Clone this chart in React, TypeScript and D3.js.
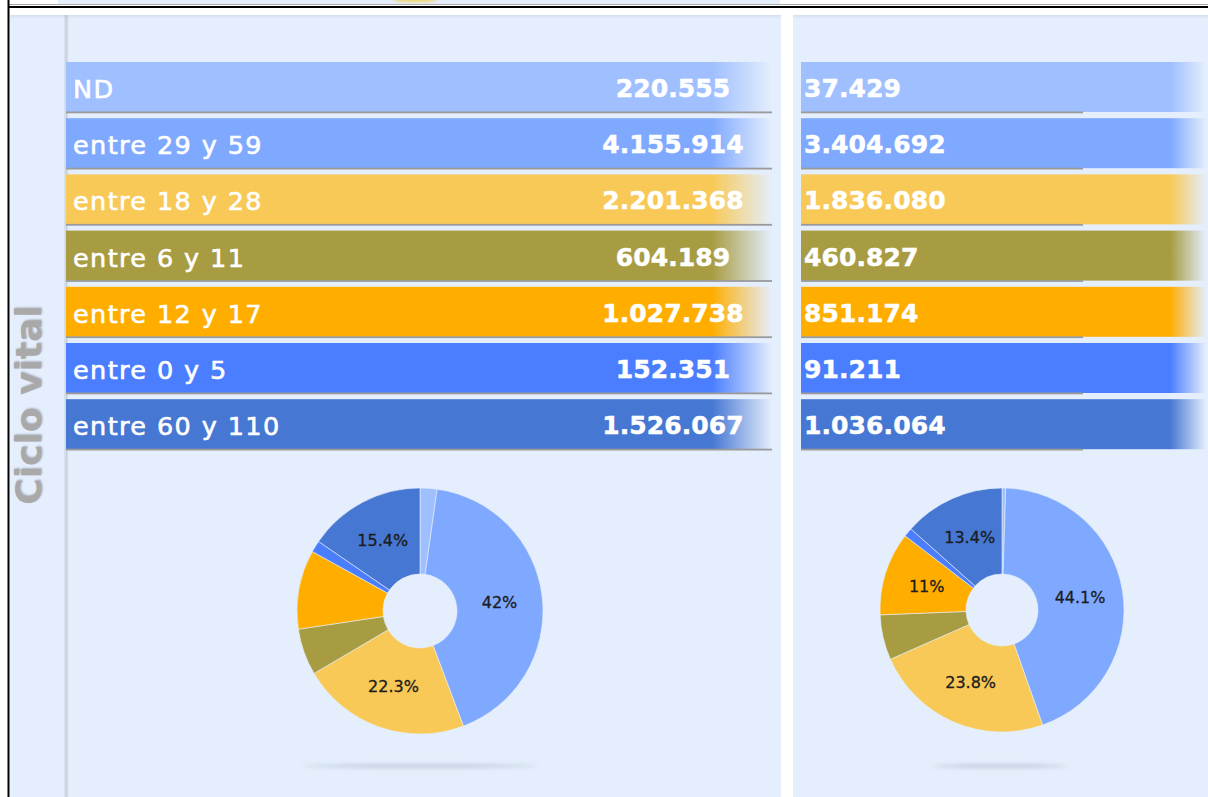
import React from 'react'
import * as d3 from 'd3'

// ciclo vital: categorias y valores de los dos paneles
const categories = ['ND', 'entre 29 y 59', 'entre 18 y 28', 'entre 6 y 11', 'entre 12 y 17', 'entre 0 y 5', 'entre 60 y 110']
const valuesLeft = [220555, 4155914, 2201368, 604189, 1027738, 152351, 1526067]
const valuesRight = [37429, 3404692, 1836080, 460827, 851174, 91211, 1036064]
const colors = ['#9fbfff', '#7fa9ff', '#f8c957', '#a89c42', '#ffae00', '#4a7eff', '#4677d3']
const axisTitle = 'Ciclo vital'

const W = 1208
const H = 797
const BG = '#e4eefc'

const esLocale = d3.formatLocale({ decimal: ',', thousands: '.', grouping: [3], currency: ['$', ''] })
const fmt = esLocale.format(',d')
const pctFmt = (p: number) => `${Math.round(p * 10) / 10}%`

const rowScale = d3.scaleBand<string>()
  .domain(categories)
  .range([62, 62 + 7 * 56.2 - 6.2])
  .paddingInner(6.2 / 56.2)
  .paddingOuter(0)

type PieProps = { values: number[], cx: number, cy: number, r: number, r0: number }

const Donut = ({ values, cx, cy, r, r0 }: PieProps) => {
  const total = d3.sum(values)
  const arcs = d3.pie<number>().sort(null).value(d => d)(values)
  const arc = d3.arc<d3.PieArcDatum<number>>().innerRadius(r0).outerRadius(r)
  return (
    <g transform={`translate(${cx},${cy})`}>
      {arcs.map((a, i) => (
        <path key={i} d={arc(a) || ''} fill={colors[i]} stroke="#e8f0fc" strokeWidth={0.6} />
      ))}
      {arcs.map((a, i) => {
        const p = (a.value / total) * 100
        if (p < 10.5) return null
        const [x, y] = arc.centroid(a)
        return (
          <text key={i} x={x} y={y} textAnchor="middle" dominantBaseline="central"
            fontFamily="'DejaVu Sans', sans-serif" fontSize={16} fill="#1c1c1c"
            stroke="#1c1c1c" strokeWidth={0.3}>
            {pctFmt(p)}
          </text>
        )
      })}
    </g>
  )
}

type PanelProps = {
  values: number[], x0: number, x1: number, fadeFrom: number, fadeTo: number,
  lineTo: number, valueX: number, anchor: 'start' | 'middle', showLabels: boolean, id: string
}

const Rows = ({ values, x0, x1, fadeFrom, fadeTo, lineTo, valueX, anchor, showLabels, id }: PanelProps) => (
  <g>
    <defs>
      {colors.map((c, i) => (
        <linearGradient key={i} id={`${id}-g${i}`} gradientUnits="userSpaceOnUse" x1={fadeFrom} x2={fadeTo} y1={0} y2={0}>
          <stop offset="0" stopColor={c} stopOpacity={1} />
          <stop offset="1" stopColor={c} stopOpacity={0} />
        </linearGradient>
      ))}
    </defs>
    {categories.map((cat, i) => {
      const y = rowScale(cat) as number
      const h = rowScale.bandwidth()
      return (
        <g key={cat}>
          <rect x={x0} y={y} width={x1 - x0} height={h} fill={`url(#${id}-g${i})`} />
          <rect x={x0} y={y + h - 0.5} width={lineTo - x0} height={1.8} fill="#9a9a9a" />
          {showLabels && (
            <text x={x0 + 7} y={y + 36} fill="#fff" fontFamily="'DejaVu Sans', sans-serif"
              fontSize={25.5} letterSpacing={1.4} stroke="#fff" strokeWidth={0.6}>{cat}</text>
          )}
          <text x={valueX} y={y + 35} fill="#fff" textAnchor={anchor} fontFamily="'DejaVu Sans', sans-serif"
            fontWeight="bold" fontSize={25} letterSpacing={0.1} stroke="#fff" strokeWidth={0.5}>{fmt(values[i])}</text>
        </g>
      )
    })}
  </g>
)

export default function App() {
  return (
    <svg width={W} height={H} style={{ position: 'fixed', left: 0, top: 0, background: '#fff' }}>
      <defs>
        <linearGradient id="sideShadow" x1="0" x2="1" y1="0" y2="0">
          <stop offset="0" stopColor="#000" stopOpacity={0.04} />
          <stop offset="0.5" stopColor="#000" stopOpacity={0.12} />
          <stop offset="1" stopColor="#000" stopOpacity={0} />
        </linearGradient>
        <linearGradient id="topShade" x1="0" x2="0" y1="0" y2="1">
          <stop offset="0" stopColor="#000" stopOpacity={0.06} />
          <stop offset="1" stopColor="#000" stopOpacity={0} />
        </linearGradient>
        <filter id="blur2" x="-20%" y="-300%" width="140%" height="700%">
          <feGaussianBlur stdDeviation="2" />
        </filter>
        <filter id="blur1" x="-50%" y="-100%" width="200%" height="300%">
          <feGaussianBlur stdDeviation="1.5" />
        </filter>
      </defs>

      {/* franja superior cortada */}
      <rect x={58} y={0} width={722} height={4} fill={BG} />
      <ellipse cx={415} cy={0} rx={22} ry={2} fill="#f3d66a" filter="url(#blur1)" />
      <rect x={9} y={4} width={W - 9} height={1} fill="#a9a9a9" />
      <rect x={8} y={6} width={W - 8} height={2} fill="#000" />
      <rect x={7.5} y={0} width={2} height={H} fill="#000" />

      {/* panel izquierdo */}
      <rect x={10} y={15} width={771} height={H - 15} fill={BG} />
      <rect x={10} y={15} width={771} height={4} fill="url(#topShade)" />
      <rect x={64} y={15} width={5} height={H - 15} fill="url(#sideShadow)" />
      <text transform="translate(41,405) rotate(-90)" textAnchor="middle" fill="#a9a9a9"
        fontFamily="'DejaVu Sans', sans-serif" fontWeight="bold" fontSize={36}
        style={{ textShadow: '1px 1px 2px rgba(0,0,0,0.25)' }}>{axisTitle}</text>
      <Rows id="L" values={valuesLeft} x0={66} x1={772} fadeFrom={712} fadeTo={772} lineTo={772}
        valueX={673} anchor="middle" showLabels={true} />
      <ellipse cx={420} cy={766} rx={118} ry={1.5} fill="#b9c3d3" filter="url(#blur2)" />
      <Donut values={valuesLeft} cx={420} cy={611} r={123} r0={37} />

      {/* panel derecho */}
      <rect x={793} y={15} width={W - 793} height={H - 15} fill={BG} />
      <rect x={793} y={15} width={W - 793} height={4} fill="url(#topShade)" />
      <Rows id="R" values={valuesRight} x0={801} x1={W} fadeFrom={1170} fadeTo={1206} lineTo={1083}
        valueX={804} anchor="start" showLabels={false} />
      <ellipse cx={1000} cy={766} rx={68} ry={1.5} fill="#b9c3d3" filter="url(#blur2)" />
      <Donut values={valuesRight} cx={1002} cy={610} r={122} r0={36} />
    </svg>
  )
}
